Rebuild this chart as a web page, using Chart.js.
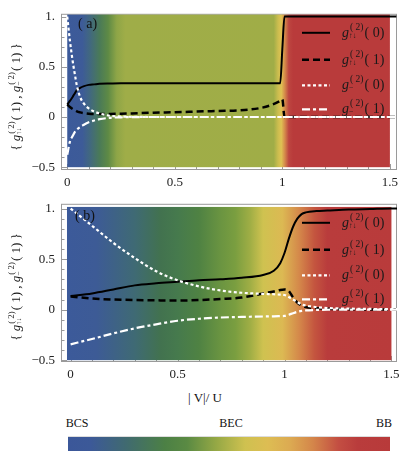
<!DOCTYPE html>
<html>
<head>
<meta charset="utf-8">
<script src="https://cdn.jsdelivr.net/npm/chart.js@4.4.1/dist/chart.umd.min.js"></script>
<style>
body { margin:0; background:#fff; width:415px; height:451px; overflow:hidden; position:relative; font-family:"Liberation Serif", serif; color:#111; }
canvas { position:absolute; left:0; }
#chartA { top:0; }
#chartB { top:190px; }
.lbl { position:absolute; transform:translate(-50%,-50%); white-space:nowrap; font-size:12px; }
#bar { position:absolute; left:68px; top:436px; width:322px; height:15px; box-sizing:border-box; border-top:1px solid #ddd; }
</style>
</head>
<body>
<canvas id="chartA" width="415" height="190"></canvas>
<canvas id="chartB" width="415" height="190"></canvas>
<div class="lbl" style="left:205px;top:398px;font-size:13px">| V|/ U</div>
<div id="phases"></div>
<div id="bar"></div>
<script>
// ---- data ----
const xA = [0, 0.0125, 0.025, 0.035, 0.045, 0.06, 0.075, 0.1, 0.125, 0.15, 0.2, 0.25, 0.3, 0.4, 0.5, 0.6, 0.7, 0.8, 0.9, 0.95, 0.99, 1.0, 1.01, 1.02, 1.1, 1.2, 1.3, 1.4, 1.5, 1.53];
const aUpDown0 = [0.125, 0.16, 0.2, 0.235, 0.27, 0.29, 0.305, 0.32, 0.325, 0.33, 0.333, 0.335, 0.335, 0.335, 0.335, 0.335, 0.335, 0.335, 0.335, 0.335, 0.335, 0.68, 1.0, 1.0, 1.0, 1.0, 1.0, 1.0, 1.0, 1.0];
const aUpDown1 = [0.125, 0.1, 0.08, 0.068, 0.056, 0.046, 0.039, 0.032, 0.03, 0.03, 0.031, 0.033, 0.036, 0.043, 0.048, 0.054, 0.06, 0.066, 0.09, 0.12, 0.16, 0.175, 0, 0, 0, 0, 0, 0, 0, 0];
const aMinus0 = [1.0, 0.76, 0.56, 0.43, 0.31, 0.2, 0.14, 0.085, 0.055, 0.035, 0.012, 0.005, 0.002, 0, 0, 0, 0, 0, 0, 0, 0, 0, 0, 0, 0, 0, 0, 0, 0, 0];
const aMinus1 = [-0.377, -0.245, -0.19, -0.15, -0.125, -0.1, -0.08, -0.052, -0.035, -0.022, -0.008, -0.003, -0.001, 0, 0, 0, 0, 0, 0, 0, 0, 0, 0, 0, 0, 0, 0, 0, 0, 0];

const xB = [0, 0.1, 0.2, 0.3, 0.4, 0.5, 0.6, 0.7, 0.8, 0.9, 0.95, 0.98, 1.0, 1.02, 1.04, 1.06, 1.08, 1.1, 1.15, 1.2, 1.3, 1.4, 1.5, 1.53];
const bUpDown0 = [0.134, 0.16, 0.2, 0.24, 0.26, 0.275, 0.29, 0.3, 0.315, 0.343, 0.385, 0.46, 0.56, 0.7, 0.82, 0.9, 0.945, 0.962, 0.975, 0.98, 0.99, 0.995, 1.0, 1.0];
const bUpDown1 = [0.13, 0.11, 0.1, 0.095, 0.092, 0.09, 0.095, 0.105, 0.12, 0.16, 0.18, 0.195, 0.2, 0.185, 0.12, 0.07, 0.04, 0.025, 0.015, 0.008, 0.004, 0.002, 0.001, 0.001];
const bMinus0 = [1.0, 0.83, 0.66, 0.51, 0.38, 0.29, 0.23, 0.19, 0.167, 0.156, 0.152, 0.148, 0.145, 0.125, 0.1, 0.075, 0.052, 0.04, 0.025, 0.016, 0.01, 0.007, 0.005, 0.005];
const bMinus1 = [-0.343, -0.29, -0.235, -0.185, -0.145, -0.11, -0.09, -0.078, -0.072, -0.068, -0.066, -0.064, -0.062, -0.05, -0.035, -0.022, -0.013, -0.008, -0.003, -0.001, 0, 0, 0, 0];

const seriesNames = ['g↑↓(2)(0)', 'g↑↓(2)(1)', 'g−(2)(0)', 'g−(2)(1)'];
const xTickVals = [0, 0.5, 1, 1.5];
const xTickLabels = ['0', '0.5', '1', '1.5'];
const yTickVals = [-0.5, 0, 0.5, 1];
const yTickLabels = ['−0.5', '0', '0.5', '1.'];
const phaseNames = ['BCS', 'BEC', 'BB'];

// background colour maps: [|V|/U, colour]
const bgA = [[0, '#3c5a9a'], [0.07, '#3d5b98'], [0.11, '#426a7c'], [0.15, '#4a7a58'], [0.19, '#5e8a45'], [0.23, '#8ea547'], [0.27, '#9fad48'], [0.96, '#a0ad47'], [0.98, '#cbbd4f'], [0.995, '#dfc253'], [1.012, '#d4884a'], [1.03, '#bd4640'], [1.05, '#b93b3b'], [1.5, '#b93b3b']];
const bgB = [[-0.017, '#3c5a9a'], [0.12, '#3d5b96'], [0.3, '#3f6a74'], [0.42, '#42724f'], [0.5, '#467a4d'], [0.6, '#4f8243'], [0.7, '#6a9441'], [0.77, '#7a9e40'], [0.84, '#a0ae45'], [0.9, '#cfc250'], [0.99, '#dcb953'], [1.07, '#d4874a'], [1.14, '#c4553f'], [1.2, '#b93c3c'], [1.5, '#b93b3b']];
const barStops = [[0, '#3b5799'], [0.07, '#3c5998'], [0.18, '#406a70'], [0.3, '#4c8045'], [0.37, '#5a8a43'], [0.46, '#95a845'], [0.55, '#cfc150'], [0.62, '#ddbd53'], [0.69, '#dcaa52'], [0.76, '#d4864a'], [0.84, '#c34e42'], [0.9, '#b93c3c'], [1, '#b83a3a']];

// ---- styles ----
const lineStyles = [
  { color: '#000', width: 2, dash: [] },
  { color: '#000', width: 2.5, dash: [7, 4] },
  { color: '#fff', width: 2.2, dash: [3, 2.5] },
  { color: '#fff', width: 2.2, dash: [8, 3, 3, 3] }
];
const FONT = '"Liberation Serif", serif';

// rich text: strings, {it: 'g'}, {sub, sup}
function richText(ctx, x, y, parts, size, draw) {
  let cx = x;
  parts.forEach(p => {
    if (typeof p === 'string') {
      ctx.font = `${size}px ${FONT}`;
      if (draw) ctx.fillText(p, cx, y);
      cx += ctx.measureText(p).width;
    } else if (p.it) {
      ctx.font = `italic ${size}px ${FONT}`;
      if (draw) ctx.fillText(p.it, cx, y);
      cx += ctx.measureText(p.it).width;
    } else {
      const s = size * 0.68;
      ctx.font = `${s}px ${FONT}`;
      let w = 0;
      if (p.sup) { if (draw) ctx.fillText(p.sup, cx + 1, y - size * 0.5); w = Math.max(w, ctx.measureText(p.sup).width + 1); }
      if (p.sub) { ctx.font = `${size * 0.55}px ${FONT}`; if (draw) ctx.fillText(p.sub, cx, y + 1); w = Math.max(w, ctx.measureText(p.sub).width); }
      cx += w + 1;
    }
  });
  return cx - x;
}

const legendParts = [
  [{ it: 'g' }, { sub: '↑↓', sup: '( 2)' }, '( 0)'],
  [{ it: 'g' }, { sub: '↑↓', sup: '( 2)' }, '( 1)'],
  [{ it: 'g' }, { sub: '−', sup: '( 2)' }, '( 0)'],
  [{ it: 'g' }, { sub: '−', sup: '( 2)' }, '( 1)']
];
const titleParts = ['{ ', { it: 'g' }, { sub: '↑↓', sup: '( 2)' }, '( 1) , ', { it: 'g' }, { sub: '−', sup: '( 2)' }, '( 1) }'];

const panelPlugin = {
  id: 'panel',
  beforeDatasetsDraw(chart, args, opts) {
    const { ctx, chartArea: ca, scales: { x, y } } = chart;
    ctx.save();
    // frame + inward ticks
    ctx.strokeStyle = '#9a9a9a';
    ctx.lineWidth = 1;
    ctx.strokeRect(ca.left + 0.5, ca.top + 0.5, ca.width - 1, ca.height - 1);
    ctx.beginPath();
    for (let i = 0; i <= 15; i++) {
      const px = Math.round(x.getPixelForValue(i / 10)) + 0.5;
      const len = i % 5 === 0 ? 6 : 3.5;
      ctx.moveTo(px, ca.bottom); ctx.lineTo(px, ca.bottom - len);
    }
    for (let i = -5; i <= 10; i++) {
      const py = Math.round(y.getPixelForValue(i / 10)) + 0.5;
      const len = i % 5 === 0 ? 6 : 3.5;
      ctx.moveTo(ca.left, py); ctx.lineTo(ca.left + len, py);
    }
    ctx.stroke();
    // colour map background
    const st = opts.stops;
    const v0 = st[0][0], v1 = st[st.length - 1][0];
    const x0 = x.getPixelForValue(v0), x1 = x.getPixelForValue(v1);
    const g = ctx.createLinearGradient(x0, 0, x1, 0);
    st.forEach(([v, c]) => g.addColorStop((v - v0) / (v1 - v0), c));
    ctx.fillStyle = g;
    const yt = y.getPixelForValue(opts.top), yb = y.getPixelForValue(-0.5);
    ctx.fillRect(x0, yt, x1 - x0, yb - yt);
    ctx.restore();
  },
  afterDatasetsDraw(chart, args, opts) {
    const { ctx, chartArea: ca } = chart;
    ctx.save();
    ctx.textBaseline = 'alphabetic';
    // legend
    const rows = [19, 46, 71.5, 95.5];
    rows.forEach((r, i) => {
      const ly = ca.top + r;
      const s = lineStyles[i];
      ctx.strokeStyle = s.color; ctx.lineWidth = s.width; ctx.setLineDash(s.dash);
      ctx.beginPath(); ctx.moveTo(302, ly); ctx.lineTo(330, ly); ctx.stroke();
      ctx.fillStyle = '#1a1a1a';
      richText(ctx, 342, ly + 4, legendParts[i], 14, true);
    });
    ctx.setLineDash([]);
    // panel label
    ctx.fillStyle = '#111';
    ctx.font = `14px ${FONT}`;
    ctx.fillText(opts.label, opts.labelX, ca.top + opts.labelDy);
    // y title
    ctx.translate(20, 97);
    ctx.rotate(-Math.PI / 2);
    const w = richText(ctx, 0, 0, titleParts, 13, false);
    richText(ctx, -w / 2, 0, titleParts, 13, true);
    ctx.restore();
  }
};

function makeChart(id, xs, series, cfg) {
  const datasets = series.map((ys, i) => ({
    label: seriesNames[i],
    data: xs.map((v, k) => ({ x: v, y: ys[k] })),
    borderColor: lineStyles[i].color,
    borderWidth: lineStyles[i].width,
    borderDash: lineStyles[i].dash,
    order: i >= 2 ? 0 : 1,
    fill: false
  }));
  return new Chart(document.getElementById(id), {
    type: 'line',
    data: { datasets },
    plugins: [panelPlugin],
    options: {
      responsive: false,
      animation: false,
      layout: { padding: { left: 0, right: 18, top: 5, bottom: 0 } },
      elements: { point: { radius: 0 }, line: { cubicInterpolationMode: 'monotone' } },
      plugins: {
        legend: { display: false },
        tooltip: { enabled: false },
        panel: { stops: cfg.stops, top: cfg.bgTop, label: cfg.label, labelX: cfg.labelX, labelDy: cfg.labelDy }
      },
      scales: {
        x: {
          type: 'linear', min: cfg.xMin, max: cfg.xMax,
          grid: { display: false, drawTicks: false }, border: { display: false },
          afterBuildTicks: s => { s.ticks = xTickVals.map(v => ({ value: v })); },
          afterFit: s => { s.height = cfg.xH; },
          ticks: { callback: (v, i) => xTickLabels[i], padding: 5, maxRotation: 0, autoSkip: false, color: '#222', font: { family: FONT, size: 13 } }
        },
        y: {
          type: 'linear', min: cfg.yMin, max: cfg.yMax,
          grid: { display: false, drawTicks: false }, border: { display: false },
          afterBuildTicks: s => { s.ticks = yTickVals.map(v => ({ value: v })); },
          afterFit: s => { s.width = 61; },
          ticks: { callback: (v, i) => yTickLabels[i], padding: 6, autoSkip: false, color: '#222', font: { family: FONT, size: 13 } }
        }
      }
    }
  });
}

makeChart('chartA', xA, [aUpDown0, aUpDown1, aMinus0, aMinus1],
  { stops: bgA, bgTop: 1.02, label: '( a)', labelX: 78, labelDy: 14, xMin: -0.029, xMax: 1.533, yMin: -0.528, yMax: 1.028, xH: 20 });
makeChart('chartB', xB, [bUpDown0, bUpDown1, bMinus0, bMinus1],
  { stops: bgB, bgTop: 1.016, label: '( b)', labelX: 75, labelDy: 16, xMin: -0.045, xMax: 1.526, yMin: -0.518, yMax: 1.047, xH: 18 });

// phase colour bar
document.getElementById('bar').style.background =
  'linear-gradient(to right,' + barStops.map(s => `${s[1]} ${s[0] * 100}%`).join(',') + ')';
const phaseX = [77, 231, 384];
document.getElementById('phases').innerHTML = phaseNames
  .map((n, i) => `<div class="lbl" style="left:${phaseX[i]}px;top:423px">${n}</div>`).join('');
</script>
</body>
</html>
